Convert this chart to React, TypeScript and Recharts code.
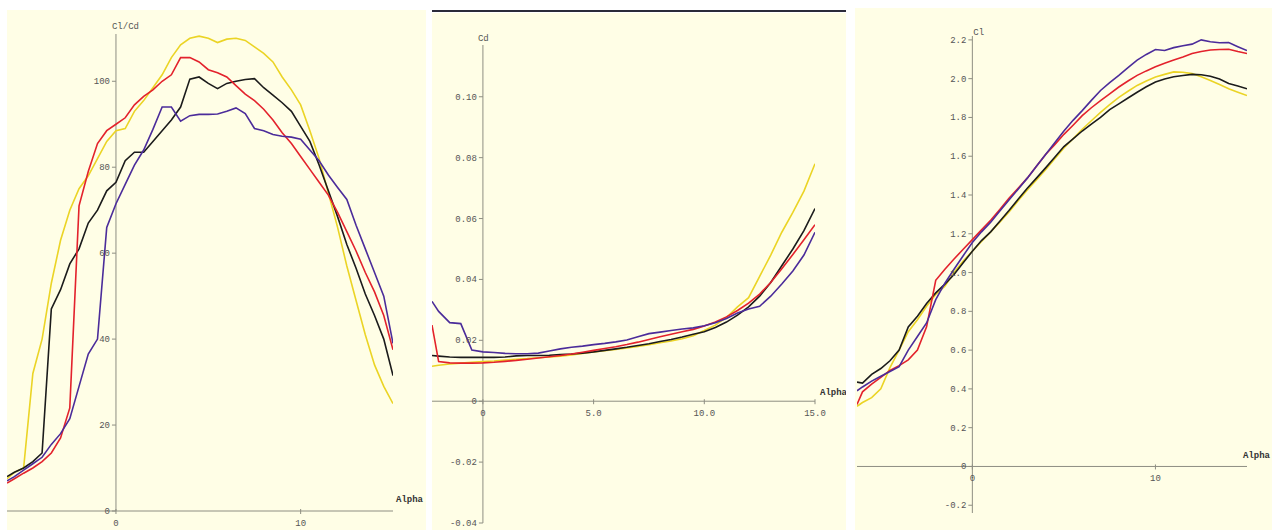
import React from 'react';
import { LineChart, Line, XAxis, YAxis, ReferenceLine, ReferenceDot } from 'recharts';

// ---- Cl/Cd vs Alpha ----
const ALPHA1 = [-5.9, -5.5, -5, -4.5, -4, -3.5, -3, -2.5, -2, -1.5, -1, -0.5, 0, 0.5, 1, 1.5, 2, 2.5, 3, 3.5, 4, 4.5, 5, 5.5, 6, 6.5, 7, 7.5, 8, 8.5, 9, 9.5, 10, 10.5, 11, 11.5, 12, 12.5, 13, 13.5, 14, 14.5, 15];
const YELLOW1 = [7.5, 9, 10, 32, 40, 53, 63, 70, 75, 78, 82, 86, 88.5, 89, 93, 95.5, 98.5, 101.5, 105.5, 108.5, 110, 110.5, 110, 109, 109.8, 110, 109.5, 108, 106.5, 104.5, 101, 98, 94.5, 88.5, 82, 74, 66, 57, 49, 41, 34, 29, 25];
const RED1 = [6.5, 7.5, 8.8, 10, 11.5, 13.5, 17, 24, 71, 79, 85.5, 88.5, 90, 91.5, 94.5, 96.5, 98, 100, 101.5, 105.5, 105.5, 104.5, 102.7, 102, 101, 99, 97, 95.5, 93.5, 91, 88, 85.5, 82.5, 79.5, 76.5, 73.5, 69.5, 65, 60.5, 55.5, 51, 45.5, 37.5];
const BLACK1 = [8, 9, 10, 11.5, 13.5, 47, 51.5, 57.5, 61, 67, 70, 74.5, 76.5, 81.5, 83.5, 83.5, 86, 88.5, 91, 94, 100.5, 101, 99.5, 98.3, 99.5, 100, 100.4, 100.6, 98.5, 96.8, 95, 93, 89.5, 86, 80.5, 74.5, 68.5, 62, 56.5, 50.5, 45.5, 40, 31.5];
const PURPLE1 = [7, 8, 9.5, 11, 12.5, 15.5, 18, 21.5, 29, 36.5, 40, 66, 71.5, 76, 80.5, 84, 88.8, 94, 94, 90.7, 92, 92.3, 92.3, 92.4, 93, 93.8, 92.5, 89, 88.5, 87.6, 87.2, 87, 86.5, 84, 81.5, 78.2, 75.3, 72.5, 66.5, 61, 55.5, 50, 39];
const Y_TICKS1 = [0, 20, 40, 60, 80, 100];
const Y_LABELS1 = ['0', '20', '40', '60', '80', '100'];
const X_TICKS1 = [0, 10];
const X_LABELS1 = ['0', '10'];

// ---- Cd vs Alpha ----
const ALPHA2 = [-2.3, -2, -1.5, -1, -0.5, 0, 0.5, 1, 1.5, 2, 2.5, 3, 3.5, 4, 4.5, 5, 5.5, 6, 6.5, 7, 7.5, 8, 8.5, 9, 9.5, 10, 10.5, 11, 11.5, 12, 12.5, 13, 13.5, 14, 14.5, 15];
const YELLOW2 = [0.0115, 0.0118, 0.0122, 0.0125, 0.0128, 0.013, 0.0132, 0.0135, 0.0138, 0.014, 0.0143, 0.0145, 0.0148, 0.0152, 0.0157, 0.0162, 0.0166, 0.017, 0.0175, 0.018, 0.0186, 0.0192, 0.0198, 0.0205, 0.0215, 0.0232, 0.025, 0.0275, 0.031, 0.034, 0.041, 0.048, 0.0555, 0.062, 0.069, 0.078];
const BLACK2 = [0.015, 0.0148, 0.0145, 0.0144, 0.0144, 0.0144, 0.0144, 0.0145, 0.0149, 0.015, 0.015, 0.0151, 0.0153, 0.0155, 0.0158, 0.0162, 0.0167, 0.0172, 0.0177, 0.0183, 0.0189, 0.0196, 0.0203, 0.0211, 0.022, 0.0228, 0.0242, 0.026, 0.0283, 0.031, 0.0345, 0.039, 0.0445, 0.05, 0.056, 0.0633];
const RED2 = [0.025, 0.013, 0.0126, 0.0125, 0.0125, 0.0126, 0.0128, 0.0131, 0.0134, 0.0138, 0.0142, 0.0146, 0.015, 0.0155, 0.0161, 0.0167, 0.0173, 0.0179, 0.0186, 0.0194, 0.0203, 0.0212, 0.022, 0.0228, 0.0236, 0.0247, 0.026, 0.0277, 0.0298, 0.0322, 0.0352, 0.039, 0.0435, 0.0482, 0.053, 0.058];
const PURPLE2 = [0.0328, 0.0295, 0.0258, 0.0255, 0.0168, 0.0162, 0.016, 0.0157, 0.0156, 0.0156, 0.0158, 0.0165, 0.0172, 0.0177, 0.0181, 0.0186, 0.019, 0.0195, 0.0201, 0.0212, 0.0222, 0.0227, 0.0232, 0.0237, 0.0241, 0.0248, 0.0258, 0.0272, 0.029, 0.0303, 0.0312, 0.0345, 0.0385, 0.0428, 0.048, 0.0555];
const Y_TICKS2 = [-0.04, -0.02, 0, 0.02, 0.04, 0.06, 0.08, 0.1];
const Y_LABELS2 = ['-0.04', '-0.02', '0', '0.02', '0.04', '0.06', '0.08', '0.10'];
const X_TICKS2 = [0, 5, 10, 15];
const X_LABELS2 = ['0', '5.0', '10.0', '15.0'];

// ---- Cl vs Alpha ----
const ALPHA3 = [-6.3, -6, -5.5, -5, -4.5, -4, -3.5, -3, -2.5, -2, -1.5, -1, -0.5, 0, 0.5, 1, 1.5, 2, 2.5, 3, 3.5, 4, 4.5, 5, 5.5, 6, 6.5, 7, 7.5, 8, 8.5, 9, 9.5, 10, 10.5, 11, 11.5, 12, 12.5, 13, 13.5, 14, 14.5, 15];
const BLACK3 = [0.435, 0.43, 0.475, 0.505, 0.545, 0.6, 0.72, 0.775, 0.84, 0.895, 0.94, 0.99, 1.05, 1.11, 1.165, 1.21, 1.265, 1.32, 1.378, 1.435, 1.487, 1.54, 1.595, 1.65, 1.69, 1.73, 1.765, 1.8, 1.84, 1.87, 1.9, 1.93, 1.958, 1.983, 1.998, 2.01, 2.016, 2.022, 2.02, 2.012, 1.998, 1.975, 1.962, 1.948];
const RED3 = [0.32, 0.385, 0.425, 0.46, 0.495, 0.52, 0.55, 0.6, 0.72, 0.96, 1.017, 1.07, 1.12, 1.17, 1.22, 1.27, 1.325, 1.383, 1.435, 1.487, 1.548, 1.609, 1.66, 1.713, 1.76, 1.809, 1.85, 1.887, 1.922, 1.957, 1.988, 2.017, 2.04, 2.061, 2.08, 2.096, 2.112, 2.13, 2.14, 2.148, 2.15, 2.152, 2.14, 2.13];
const PURPLE3 = [0.39, 0.41, 0.44, 0.465, 0.49, 0.515, 0.6, 0.67, 0.74, 0.86, 0.945, 1.017, 1.087, 1.155, 1.21, 1.26, 1.318, 1.374, 1.43, 1.487, 1.548, 1.609, 1.67, 1.73, 1.785, 1.835, 1.888, 1.939, 1.98, 2.017, 2.057, 2.096, 2.125, 2.15, 2.145, 2.16, 2.17, 2.178, 2.2, 2.19, 2.185, 2.186, 2.165, 2.145];
const YELLOW3 = [0.31, 0.33, 0.355, 0.4, 0.51, 0.6, 0.695, 0.757, 0.826, 0.887, 0.93, 1.0, 1.06, 1.11, 1.16, 1.209, 1.26, 1.313, 1.37, 1.426, 1.478, 1.53, 1.587, 1.643, 1.69, 1.739, 1.783, 1.826, 1.866, 1.904, 1.935, 1.965, 1.988, 2.009, 2.022, 2.035, 2.033, 2.026, 2.01, 1.991, 1.97, 1.948, 1.93, 1.913];
const Y_TICKS3 = [-0.2, 0, 0.2, 0.4, 0.6, 0.8, 1.0, 1.2, 1.4, 1.6, 1.8, 2.0, 2.2];
const Y_LABELS3 = ['-0.2', '0', '0.2', '0.4', '0.6', '0.8', '1.0', '1.2', '1.4', '1.6', '1.8', '2.0', '2.2'];
const X_TICKS3 = [0, 10];
const X_LABELS3 = ['0', '10'];

const BG = '#fffee6';
const AXIS = '#8e8e82';
const TXT: React.CSSProperties = { fontFamily: '"Liberation Mono", monospace', fontSize: 9, fill: '#555' };
const TITLE: React.CSSProperties = { fontFamily: '"Liberation Mono", monospace', fontSize: 9, fill: '#333', fontWeight: 'bold' };
const COLORS = { yellow: '#ebd425', black: '#1b1b1b', red: '#e3222c', purple: '#4b2c9a' };

const buildRows = (alpha: number[], yellow: number[], black: number[], red: number[], purple: number[]) =>
  alpha.map((a, i) => ({ a, yellow: yellow[i], black: black[i], red: red[i], purple: purple[i] }));

const yTick = (label: string) => (p: any) => (
  <g>
    <line x1={p.cx - 4} y1={p.cy} x2={p.cx} y2={p.cy} stroke={AXIS} />
    <text x={p.cx - 6} y={p.cy + 3} textAnchor="end" style={TXT}>{label}</text>
  </g>
);

const xTick = (label: string) => (p: any) => (
  <g>
    <line x1={p.cx} y1={p.cy - 2} x2={p.cx} y2={p.cy + 3} stroke={AXIS} />
    <text x={p.cx} y={p.cy + 15} textAnchor="middle" style={TXT}>{label}</text>
  </g>
);

const label = (text: string, dx: number, dy: number, style: React.CSSProperties) => (p: any) => (
  <text x={p.cx + dx} y={p.cy + dy} style={style}>{text}</text>
);

type PanelProps = {
  left: number; top: number; width: number; height: number;
  margin: { top: number; right: number; bottom: number; left: number };
  rows: any[]; xDomain: [number, number]; yDomain: [number, number];
  yTicks: number[]; yLabels: string[]; xTicks: number[]; xLabels: string[];
  title: string; titleDx: number; titleDy: number; alphaDx: number; alphaDy: number;
};

const Panel = (pp: PanelProps) => (
  <div style={{ position: 'absolute', left: pp.left, top: pp.top, width: pp.width, height: pp.height, background: BG }}>
    <LineChart width={pp.width} height={pp.height} data={pp.rows} margin={pp.margin}>
      <XAxis type="number" dataKey="a" domain={pp.xDomain} hide allowDataOverflow />
      <YAxis type="number" domain={pp.yDomain} hide allowDataOverflow />
      <ReferenceLine x={0} stroke={AXIS} />
      <ReferenceLine y={0} stroke={AXIS} />
      {pp.yTicks.map((v, i) => (
        <ReferenceDot key={'y' + v} x={0} y={v} shape={yTick(pp.yLabels[i])} />
      ))}
      {pp.xTicks.map((v, i) => (
        <ReferenceDot key={'x' + v} x={v} y={0} shape={xTick(pp.xLabels[i])} />
      ))}
      <ReferenceDot x={0} y={pp.yDomain[1]} shape={label(pp.title, pp.titleDx, pp.titleDy, TXT)} />
      <ReferenceDot x={pp.xDomain[1]} y={0} shape={label('Alpha', pp.alphaDx, pp.alphaDy, TITLE)} />
      <Line type="linear" dataKey="yellow" stroke={COLORS.yellow} strokeWidth={1.6} dot={false} isAnimationActive={false} />
      <Line type="linear" dataKey="black" stroke={COLORS.black} strokeWidth={1.6} dot={false} isAnimationActive={false} />
      <Line type="linear" dataKey="red" stroke={COLORS.red} strokeWidth={1.6} dot={false} isAnimationActive={false} />
      <Line type="linear" dataKey="purple" stroke={COLORS.purple} strokeWidth={1.6} dot={false} isAnimationActive={false} />
    </LineChart>
  </div>
);

export default function App() {
  return (
    <div style={{ position: 'fixed', left: 0, top: 0, width: 1272, height: 530, background: '#fff', overflow: 'hidden' }}>
      <Panel
        left={7} top={10} width={419} height={520}
        margin={{ top: 24, right: 33, bottom: 19, left: 0 }}
        rows={buildRows(ALPHA1, YELLOW1, BLACK1, RED1, PURPLE1)}
        xDomain={[-5.9, 15]} yDomain={[0, 111]}
        yTicks={Y_TICKS1} yLabels={Y_LABELS1} xTicks={X_TICKS1} xLabels={X_LABELS1}
        title="Cl/Cd" titleDx={-4} titleDy={-5} alphaDx={3} alphaDy={-9}
      />
      <div style={{ position: 'absolute', left: 432, top: 10, width: 414, height: 2, background: '#2b2b3a' }} />
      <Panel
        left={432} top={13} width={414} height={517}
        margin={{ top: 32, right: 31, bottom: 7, left: 0 }}
        rows={buildRows(ALPHA2, YELLOW2, BLACK2, RED2, PURPLE2)}
        xDomain={[-2.3, 15]} yDomain={[-0.04, 0.117]}
        yTicks={Y_TICKS2} yLabels={Y_LABELS2} xTicks={X_TICKS2} xLabels={X_LABELS2}
        title="Cd" titleDx={-5} titleDy={-4} alphaDx={5} alphaDy={-6}
      />
      <Panel
        left={855} top={8} width={417} height={522}
        margin={{ top: 28, right: 25, bottom: 17, left: 2 }}
        rows={buildRows(ALPHA3, YELLOW3, BLACK3, RED3, PURPLE3)}
        xDomain={[-6.3, 15]} yDomain={[-0.24, 2.22]}
        yTicks={Y_TICKS3} yLabels={Y_LABELS3} xTicks={X_TICKS3} xLabels={X_LABELS3}
        title="Cl" titleDx={1} titleDy={-1} alphaDx={-4} alphaDy={-8}
      />
    </div>
  );
}
